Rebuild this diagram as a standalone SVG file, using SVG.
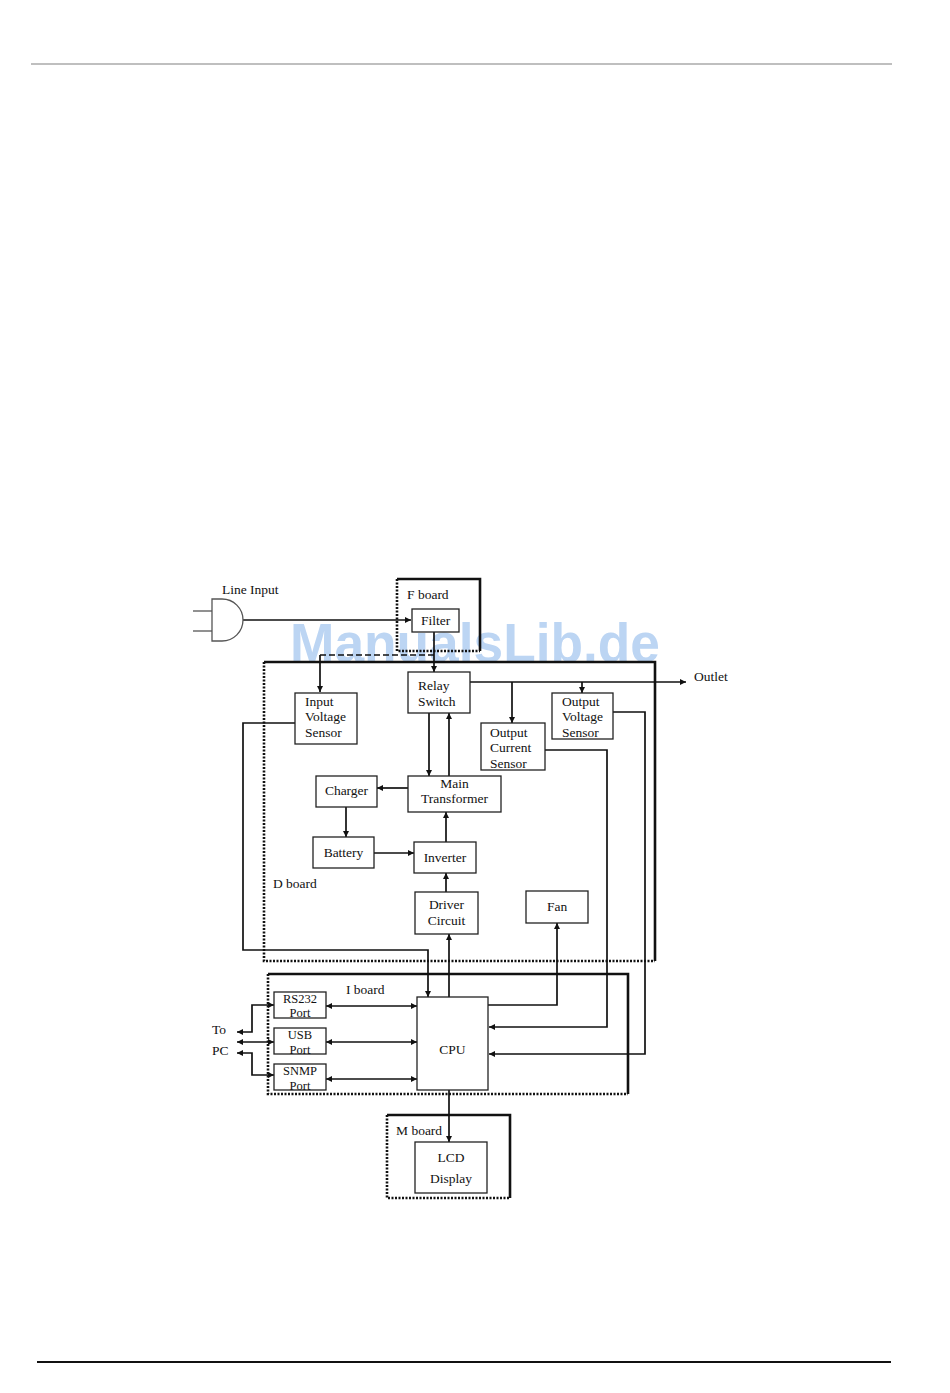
<svg xmlns="http://www.w3.org/2000/svg" width="950" height="1393" viewBox="0 0 950 1393">
<defs>
<marker id="ah" viewBox="0 0 10 10" refX="10" refY="5" markerWidth="7" markerHeight="6" markerUnits="userSpaceOnUse" orient="auto-start-reverse">
<path d="M0,0 L10,5 L0,10 Z" fill="#111"/>
</marker>
<style>
.t{font-family:"Liberation Serif","Times New Roman",serif;font-size:13.5px;fill:#111}
.s{font-size:12.5px}
.c{text-anchor:middle}
.box{fill:#fff;stroke:#222;stroke-width:1.3}
.ln{fill:none;stroke:#111;stroke-width:1.7}
.ar{fill:none;stroke:#111;stroke-width:1.7;marker-end:url(#ah)}
.ar2{fill:none;stroke:#111;stroke-width:1.7;marker-end:url(#ah);marker-start:url(#ah)}
.solid{fill:none;stroke:#111;stroke-width:2.6}
.dot{fill:none;stroke:#111;stroke-width:2.6;stroke-dasharray:2 1.5}
.wm{font-family:"Liberation Sans",Arial,sans-serif;font-weight:bold;font-size:55px;fill:#bcd5f3}
</style>
</defs>
<rect width="950" height="1393" fill="#fff"/>
<line x1="31" y1="64" x2="892" y2="64" stroke="#aaa" stroke-width="1.5"/>
<line x1="37" y1="1362" x2="891" y2="1362" stroke="#111" stroke-width="1.8"/>

<text class="wm" x="290" y="662" textLength="370" lengthAdjust="spacingAndGlyphs">ManualsLib.de</text>

<g id="boards">
<g id="f-board">
<path class="solid" d="M397,579 H480 V651"/>
<path class="dot" d="M397,579 V651 H480"/>
<text class="t" x="407" y="599">F board</text>
</g>
<g id="d-board">
<path class="solid" d="M264,662 H655 V961"/>
<path class="dot" d="M264,662 V961 H655"/>
<text class="t" x="273" y="888">D board</text>
</g>
<g id="i-board">
<path class="solid" d="M268,974 H628 V1094"/>
<path class="dot" d="M268,974 V1094 H628"/>
<text class="t" x="346" y="994">I board</text>
</g>
<g id="m-board">
<path class="solid" d="M387,1115 H510 V1198"/>
<path class="dot" d="M387,1115 V1198 H510"/>
<text class="t" x="396" y="1135">M board</text>
</g>
</g>

<g id="connectors">
<line x1="193" y1="611" x2="212" y2="611" stroke="#555" stroke-width="1.3"/>
<line x1="193" y1="631" x2="212" y2="631" stroke="#555" stroke-width="1.3"/>
<path class="ar" d="M243,620 H411"/>
<path class="ar" d="M434,632 V672"/>
<path class="ln" d="M434,655 H320" stroke-dasharray="6 3"/>
<path class="ar" d="M320,655 V692"/>
<path class="ar" d="M470,682 H686"/>
<path class="ar" d="M512,682 V723"/>
<path class="ar" d="M582,682 V693"/>
<path class="ar" d="M429,713 V776"/>
<path class="ar" d="M449,776 V713"/>
<path class="ar" d="M408,788 H377"/>
<path class="ar" d="M346,807 V837"/>
<path class="ar" d="M374,853 H414"/>
<path class="ar" d="M446,842 V812"/>
<path class="ar" d="M446,892 V873"/>
<path class="ar" d="M449,997 V934"/>
<path class="ar" d="M295,723 H243 V950 H428 V997"/>
<path class="ar" d="M488,1005 H557 V923"/>
<path class="ar" d="M545,750 H607 V1027 H489"/>
<path class="ar" d="M613,712 H645 V1054 H489"/>
<path class="ar2" d="M326,1006 H417"/>
<path class="ar2" d="M326,1042 H417"/>
<path class="ar2" d="M326,1079 H417"/>
<path class="ar2" d="M237,1032 H252 V1005 H274"/>
<path class="ar2" d="M237,1042 H274"/>
<path class="ar2" d="M237,1053 H252 V1075 H274"/>
<path class="ar" d="M449,1090 V1142"/>
</g>

<g id="line-input">
<path d="M212,599 H222 A21,21 0 0 1 222,641 H212 Z" fill="#fff" stroke="#555" stroke-width="1.3"/>
<text class="t" x="222" y="594">Line Input</text>
</g>
<g id="filter"><rect class="box" x="412" y="609" width="47" height="23"/><text class="t c" x="435.5" y="625">Filter</text></g>
<g id="relay-switch"><rect class="box" x="408" y="672" width="62" height="41"/><text class="t" x="418" y="690">Relay</text><text class="t" x="418" y="706">Switch</text></g>
<g id="outlet"><text class="t" x="694" y="681">Outlet</text></g>
<g id="input-voltage-sensor"><rect class="box" x="295" y="693" width="62" height="51"/><text class="t" x="305" y="706">Input</text><text class="t" x="305" y="721">Voltage</text><text class="t" x="305" y="737">Sensor</text></g>
<g id="output-voltage-sensor"><rect class="box" x="552" y="693" width="61" height="46"/><text class="t" x="562" y="706">Output</text><text class="t" x="562" y="721">Voltage</text><text class="t" x="562" y="737">Sensor</text></g>
<g id="output-current-sensor"><rect class="box" x="481" y="723" width="64" height="47"/><text class="t" x="490" y="737">Output</text><text class="t" x="490" y="752">Current</text><text class="t" x="490" y="768">Sensor</text></g>
<g id="charger"><rect class="box" x="316" y="776" width="61" height="31"/><text class="t c" x="346.5" y="795">Charger</text></g>
<g id="main-transformer"><rect class="box" x="408" y="776" width="93" height="36"/><text class="t c" x="454.5" y="788">Main</text><text class="t c" x="454.5" y="803">Transformer</text></g>
<g id="battery"><rect class="box" x="313" y="837" width="61" height="31"/><text class="t c" x="343.5" y="857">Battery</text></g>
<g id="inverter"><rect class="box" x="414" y="842" width="62" height="31"/><text class="t c" x="445" y="862">Inverter</text></g>
<g id="driver-circuit"><rect class="box" x="415" y="892" width="63" height="42"/><text class="t c" x="446.5" y="909">Driver</text><text class="t c" x="446.5" y="925">Circuit</text></g>
<g id="fan"><rect class="box" x="526" y="891" width="62" height="32"/><text class="t c" x="557" y="911">Fan</text></g>
<g id="cpu"><rect class="box" x="417" y="997" width="71" height="93"/><text class="t c" x="452.5" y="1054">CPU</text></g>
<g id="rs232-port"><rect class="box" x="274" y="992" width="52" height="26"/><text class="t s c" x="300" y="1003">RS232</text><text class="t s c" x="300" y="1017">Port</text></g>
<g id="usb-port"><rect class="box" x="274" y="1028" width="52" height="26"/><text class="t s c" x="300" y="1039">USB</text><text class="t s c" x="300" y="1054">Port</text></g>
<g id="snmp-port"><rect class="box" x="274" y="1064" width="52" height="26"/><text class="t s c" x="300" y="1075">SNMP</text><text class="t s c" x="300" y="1090">Port</text></g>
<g id="to-pc"><text class="t" x="212" y="1034">To</text><text class="t" x="212" y="1055">PC</text></g>
<g id="lcd-display"><rect class="box" x="415" y="1142" width="72" height="51"/><text class="t c" x="451" y="1162">LCD</text><text class="t c" x="451" y="1183">Display</text></g>
</svg>
